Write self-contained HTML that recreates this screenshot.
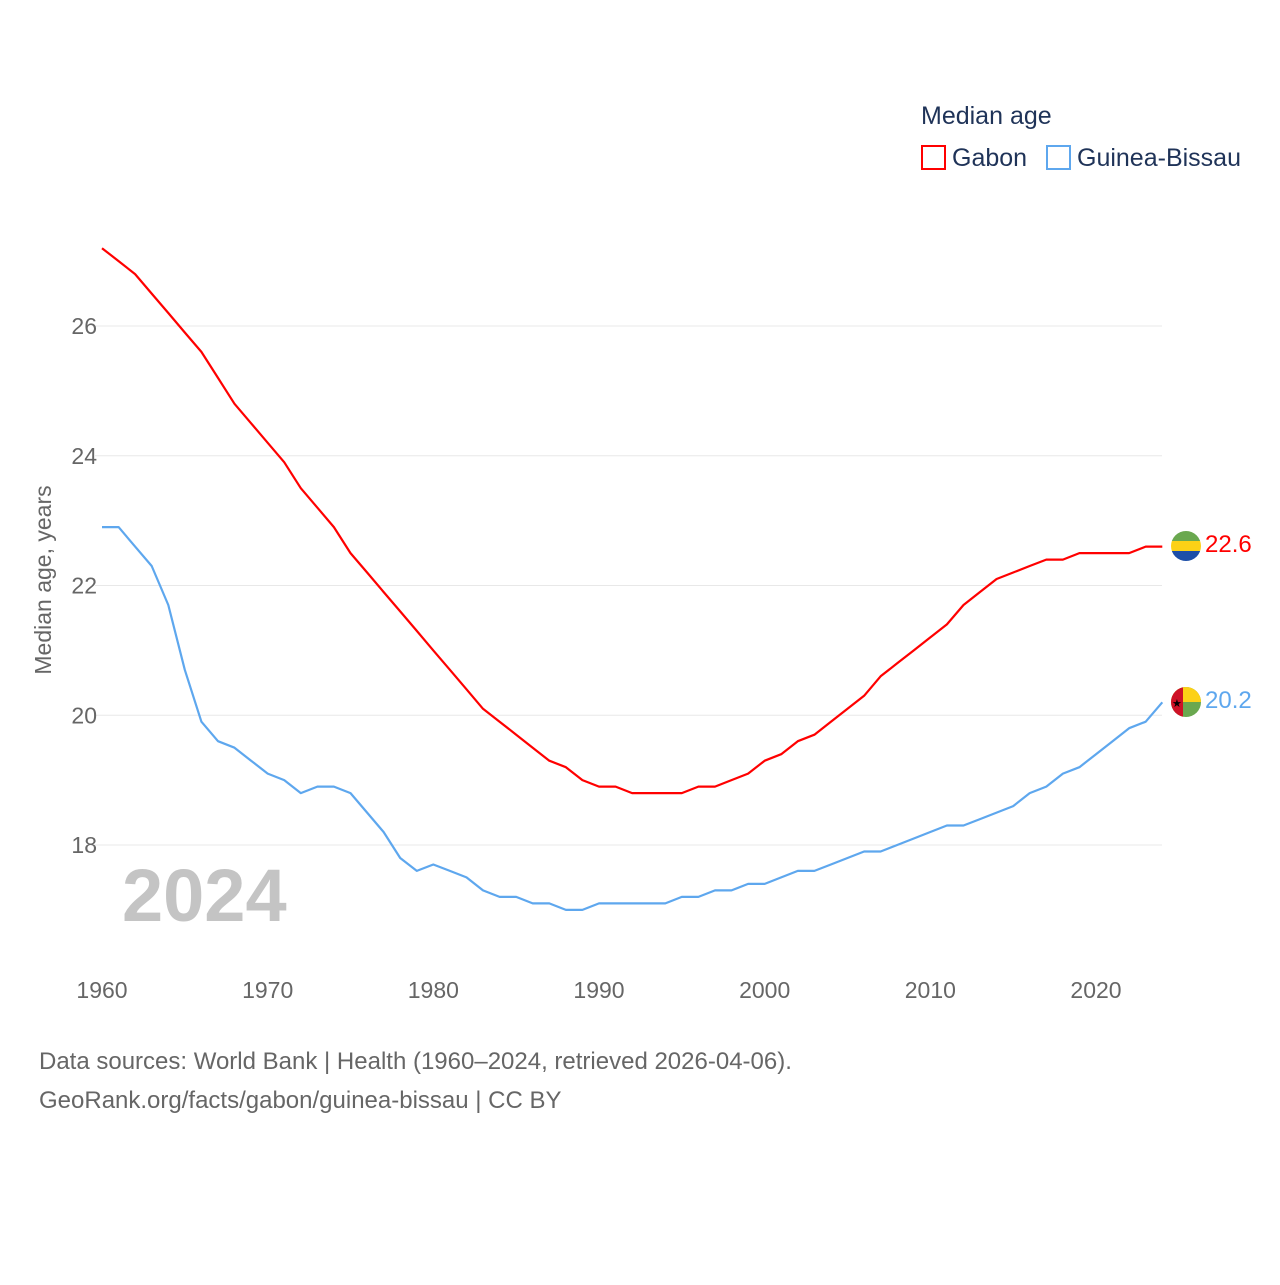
<!DOCTYPE html>
<html><head><meta charset="utf-8">
<style>
html,body{margin:0;padding:0;background:#fff;}
body{width:1280px;height:1280px;overflow:hidden;font-family:"Liberation Sans",sans-serif;}
</style></head>
<body>
<svg id="chart" width="1280" height="1280" xmlns="http://www.w3.org/2000/svg" font-family="Liberation Sans, sans-serif">
<g id="grid"></g>
<g id="xticks"></g>
<g id="yticks"></g>
<text x="122" y="921" font-size="74" font-weight="bold" fill="#c4c4c4">2024</text>
<text transform="translate(51,580) rotate(-90)" text-anchor="middle" font-size="23" fill="#666">Median age, years</text>
<g id="series"></g>
<g>
<text x="921" y="124" font-size="25" fill="#1f3358">Median age</text>
<rect x="922" y="146" width="23" height="23" fill="none" stroke="#ff0000" stroke-width="2"/>
<text x="952" y="166" font-size="25" fill="#1f3358">Gabon</text>
<rect x="1047" y="146" width="23" height="23" fill="none" stroke="#5ea7ee" stroke-width="2"/>
<text x="1077" y="166" font-size="25" fill="#1f3358">Guinea-Bissau</text>
</g>
<g>
<clipPath id="c1"><circle cx="1186" cy="546" r="15"/></clipPath>
<g clip-path="url(#c1)"><rect x="1171" y="531" width="30" height="10" fill="#6aa84f"/><rect x="1171" y="541" width="30" height="10" fill="#fcd116"/><rect x="1171" y="551" width="30" height="10" fill="#1d4fa8"/></g>
</g>
<g>
<clipPath id="c2"><circle cx="1186" cy="702" r="15"/></clipPath>
<g clip-path="url(#c2)"><rect x="1171" y="687" width="30" height="30" fill="#6aa84f"/><rect x="1171" y="687" width="30" height="15" fill="#fcd116"/><rect x="1171" y="687" width="12" height="30" fill="#ce1126"/><text x="1172" y="707" font-size="11" fill="#000">★</text></g>
</g>
<text x="1205" y="552" font-size="24" fill="#ff0000">22.6</text>
<text x="1205" y="708" font-size="24" fill="#5ea7ee">20.2</text>
<text x="39" y="1069" font-size="24" fill="#666">Data sources: World Bank | Health (1960–2024, retrieved 2026-04-06).</text>
<text x="39" y="1108" font-size="24" fill="#666">GeoRank.org/facts/gabon/guinea-bissau | CC BY</text>
</svg>
<script>
const years = [];for(let y=1960;y<=2024;y++)years.push(y);
const gabon = [27.2,27.0,26.8,26.5,26.2,25.9,25.6,25.2,24.8,24.5,24.2,23.9,23.5,23.2,22.9,22.5,22.2,21.9,21.6,21.3,21.0,20.7,20.4,20.1,19.9,19.7,19.5,19.3,19.2,19.0,18.9,18.9,18.8,18.8,18.8,18.8,18.9,18.9,19.0,19.1,19.3,19.4,19.6,19.7,19.9,20.1,20.3,20.6,20.8,21.0,21.2,21.4,21.7,21.9,22.1,22.2,22.3,22.4,22.4,22.5,22.5,22.5,22.5,22.6,22.6];
const guinea = [22.9,22.9,22.6,22.3,21.7,20.7,19.9,19.6,19.5,19.3,19.1,19.0,18.8,18.9,18.9,18.8,18.5,18.2,17.8,17.6,17.7,17.6,17.5,17.3,17.2,17.2,17.1,17.1,17.0,17.0,17.1,17.1,17.1,17.1,17.1,17.2,17.2,17.3,17.3,17.4,17.4,17.5,17.6,17.6,17.7,17.8,17.9,17.9,18.0,18.1,18.2,18.3,18.3,18.4,18.5,18.6,18.8,18.9,19.1,19.2,19.4,19.6,19.8,19.9,20.2];
const yTicks = [18,20,22,24,26];
const xTicks = [1960,1970,1980,1990,2000,2010,2020];
const X = y => 102 + (y-1960)*(994/60);
const Y = v => 845 - (v-18)*64.875;
const NS="http://www.w3.org/2000/svg";
function mk(tag,attrs,parent){const e=document.createElementNS(NS,tag);for(const k in attrs)e.setAttribute(k,attrs[k]);parent.appendChild(e);return e;}
const grid=document.getElementById('grid'), yt=document.getElementById('yticks'), xt=document.getElementById('xticks'), ser=document.getElementById('series');
yTicks.forEach(v=>{
  const l=mk('line',{x1:95,x2:1162,y1:Y(v),y2:Y(v),stroke:'#e8e8e8','stroke-width':1},grid);
  
  
  const t=mk('text',{x:97,y:Y(v)+8,'text-anchor':'end','font-size':23,fill:'#666'},yt);
  t.textContent=v;
  
  
});
xTicks.forEach(v=>{
  const t=mk('text',{x:X(v),y:998,'text-anchor':'middle','font-size':23,fill:'#666'},xt);
  t.textContent=v;
  
  
});
function line(vals,color,name){
  const d=vals.map((v,i)=>(i?'L':'M')+X(years[i]).toFixed(1)+' '+Y(v).toFixed(1)).join(' ');
  const p=mk('path',{d:d,fill:'none',stroke:color,'stroke-width':2.2,'stroke-linejoin':'round'},ser);
  
  
}
line(gabon,'#ff0000','gabon-line');
line(guinea,'#5ea7ee','guinea-bissau-line');
</script>
</body></html>
